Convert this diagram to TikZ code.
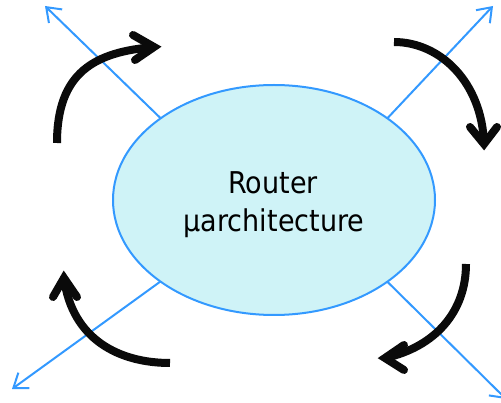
\documentclass[tikz,border=0pt]{standalone}
\usepackage{fontspec}
\newfontfamily\labfont[FakeStretch=0.9]{DejaVu Sans}
\usetikzlibrary{arrows.meta,shapes.geometric}
\definecolor{linkblue}{RGB}{51,153,255}
\definecolor{cellfill}{RGB}{207,243,247}
\definecolor{arrowblack}{RGB}{10,10,10}
\tikzset{
  link/.style={draw=linkblue, line width=2pt, -{Straight Barb[length=13pt,width=19pt]}},
  shaft/.style={draw=arrowblack, line width=8pt, line cap=butt},
  chevron/.style={draw=arrowblack, line width=8pt, line cap=round, line join=miter},
  lbl/.style={font=\labfont\fontsize{30}{38}\selectfont, anchor=base, inner sep=0pt}
}
\begin{document}
\begin{tikzpicture}[x=1pt,y=1pt]
\useasboundingbox (0,0) rectangle (501,402);
% blue links
\coordinate (tlin) at (215,231);
\coordinate (tltip) at (45,396);
\coordinate (trin) at (335,228);
\coordinate (trtip) at (493,396);
\coordinate (blin) at (215,160);
\coordinate (bltip) at (12,13);
\coordinate (brin) at (335,172);
\coordinate (brtip) at (506,3);
\draw[link] (tlin) -- (tltip);
\draw[link] (trin) -- (trtip);
\draw[link] (blin) -- (bltip);
\draw[link] (brin) -- (brtip);
% ellipse
\node[draw=linkblue, fill=cellfill, line width=2pt, ellipse, minimum width=322pt, minimum height=230pt, inner sep=0pt] (el) at (274,202) {};
\node[lbl] (t1) at (273,208) {Router};
\node[lbl] (t2) at (274,170) {μarchitecture};
% black curved arrows
% top-left
\coordinate (a1s) at (57,259);
\coordinate (a1t) at (154,355);
\coordinate (a1u) at (133,367);
\coordinate (a1d) at (135,342);
\draw[shaft] (a1s) .. controls (57,330) and (95,350) .. (a1t);
\draw[chevron] (a1u) -- (a1t) -- (a1d);
% top-right
\coordinate (a2s) at (394,360);
\coordinate (a2t) at (484,258);
\coordinate (a2l) at (470,275);
\coordinate (a2r) at (497,275);
\draw[shaft] (a2s) .. controls (440,360) and (482,320) .. (a2t);
\draw[chevron] (a2l) -- (a2t) -- (a2r);
% bottom-right
\coordinate (a3s) at (466,138);
\coordinate (a3t) at (385,44);
\coordinate (a3u) at (404,57);
\coordinate (a3d) at (404,32);
\draw[shaft] (a3s) .. controls (466,90) and (435,55) .. (a3t);
\draw[chevron] (a3u) -- (a3t) -- (a3d);
% bottom-left
\coordinate (a4s) at (170,39);
\coordinate (a4t) at (64,124);
\coordinate (a4l) at (53,105);
\coordinate (a4r) at (77,105);
\draw[shaft] (a4s) .. controls (120,39) and (72,62) .. (a4t);
\draw[chevron] (a4l) -- (a4t) -- (a4r);
\end{tikzpicture}
\end{document}
